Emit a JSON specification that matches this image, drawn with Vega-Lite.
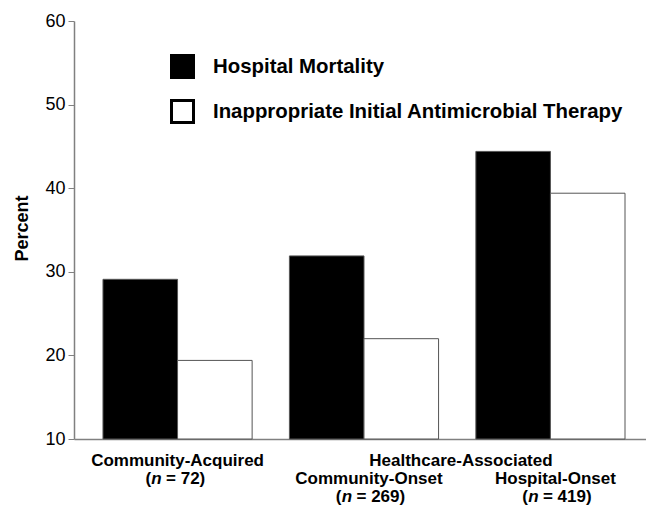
{
  "$schema": "https://vega.github.io/schema/vega-lite/v6.json",
  "width": 572,
  "height": 418,
  "autosize": "none",
  "padding": {"left": 74, "top": 21, "right": 0, "bottom": 71},
  "background": "white",
  "config": {
    "view": {"stroke": null},
    "font": "Liberation Sans",
    "text": {"font": "Liberation Sans", "fontWeight": "bold", "fontSize": 17, "color": "black"}
  },
  "datasets": {
    "bars": [
      {"group": "Community-Acquired", "measure": "Hospital Mortality", "value": 29.1},
      {"group": "Community-Acquired", "measure": "Inappropriate Initial Antimicrobial Therapy", "value": 19.4},
      {"group": "Community-Onset", "measure": "Hospital Mortality", "value": 31.9},
      {"group": "Community-Onset", "measure": "Inappropriate Initial Antimicrobial Therapy", "value": 22.0},
      {"group": "Hospital-Onset", "measure": "Hospital Mortality", "value": 44.4},
      {"group": "Hospital-Onset", "measure": "Inappropriate Initial Antimicrobial Therapy", "value": 39.4}
    ],
    "groups": [
      {"group": "Community-Acquired", "row": 1, "rest": "= 72)"},
      {"group": "Community-Onset", "row": 2, "rest": "= 269)"},
      {"group": "Hospital-Onset", "row": 2, "rest": "= 419)"}
    ],
    "super": [
      {"group": "Community-Onset", "text": "Healthcare-Associated"}
    ]
  },
  "encoding": {
    "x": {
      "field": "group",
      "type": "nominal",
      "sort": ["Community-Acquired", "Community-Onset", "Hospital-Onset"],
      "scale": {"paddingInner": 0.2, "paddingOuter": 0.134, "align": 0.58},
      "axis": {"labels": false, "ticks": false, "title": null, "domainColor": "#808080", "domainWidth": 1.5}
    }
  },
  "layer": [
    {
      "data": {"name": "bars"},
      "mark": {"type": "bar", "stroke": "#555555", "strokeWidth": 1},
      "encoding": {
        "xOffset": {
          "field": "measure",
          "type": "nominal",
          "sort": ["Hospital Mortality", "Inappropriate Initial Antimicrobial Therapy"],
          "scale": {"paddingInner": 0, "paddingOuter": 0}
        },
        "y": {
          "field": "value",
          "type": "quantitative",
          "scale": {"domain": [10, 60], "nice": false, "zero": false},
          "axis": {
            "values": [10, 20, 30, 40, 50, 60],
            "grid": false,
            "tickSize": 6,
            "tickColor": "#808080",
            "domainColor": "#808080",
            "domainWidth": 1.5,
            "labelFont": "Liberation Sans",
            "labelFontSize": 18,
            "labelColor": "black",
            "labelPadding": 3,
            "title": "Percent",
            "titleFont": "Liberation Sans",
            "titleFontWeight": "bold",
            "titleFontSize": 18,
            "titleColor": "black",
            "titleAngle": -90,
            "titleX": -52,
            "titleY": 207,
            "titleAlign": "center",
            "titleBaseline": "middle"
          }
        },
        "y2": {"datum": 10},
        "color": {
          "field": "measure",
          "type": "nominal",
          "scale": {
            "domain": ["Hospital Mortality", "Inappropriate Initial Antimicrobial Therapy"],
            "range": ["#000000", "#ffffff"]
          },
          "legend": {
            "title": null,
            "orient": "none",
            "legendX": 96,
            "legendY": 33,
            "padding": 0,
            "symbolType": "square",
            "symbolSize": 484,
            "symbolStrokeColor": "black",
            "symbolStrokeWidth": 3,
            "symbolOpacity": 1,
            "labelFont": "Liberation Sans",
            "labelFontWeight": "bold",
            "labelFontSize": 20.4,
            "labelColor": "black",
            "labelOffset": 18,
            "labelLimit": 600,
            "rowPadding": 10
          }
        }
      }
    },
    {
      "data": {"name": "groups"},
      "transform": [{"filter": "datum.row == 1"}],
      "mark": {"type": "text", "align": "center", "baseline": "middle", "dy": 22},
      "encoding": {"text": {"field": "group"}, "y": {"datum": 10}}
    },
    {
      "data": {"name": "groups"},
      "transform": [{"filter": "datum.row == 2"}],
      "mark": {"type": "text", "align": "center", "baseline": "middle", "dy": 40, "dx": 5},
      "encoding": {"text": {"field": "group"}, "y": {"datum": 10}}
    },
    {
      "data": {"name": "super"},
      "mark": {"type": "text", "align": "center", "baseline": "middle", "dy": 22},
      "encoding": {"text": {"field": "text"}, "x": {"field": "group", "type": "nominal", "bandPosition": 1.15}, "y": {"datum": 10}}
    },
    {
      "data": {"name": "groups"},
      "transform": [{"filter": "datum.row == 1"}],
      "mark": {"type": "text", "align": "right", "baseline": "middle", "dy": 40, "dx": -26.5},
      "encoding": {"text": {"value": "("}, "y": {"datum": 10}}
    },
    {
      "data": {"name": "groups"},
      "transform": [{"filter": "datum.row == 1"}],
      "mark": {"type": "text", "align": "center", "baseline": "middle", "dy": 40, "dx": -21, "fontStyle": "italic"},
      "encoding": {"text": {"value": "n"}, "y": {"datum": 10}}
    },
    {
      "data": {"name": "groups"},
      "transform": [{"filter": "datum.row == 1"}],
      "mark": {"type": "text", "align": "left", "baseline": "middle", "dy": 40, "dx": -11.5},
      "encoding": {"text": {"field": "rest"}, "y": {"datum": 10}}
    },
    {
      "data": {"name": "groups"},
      "transform": [{"filter": "datum.row == 2"}],
      "mark": {"type": "text", "align": "right", "baseline": "middle", "dy": 58, "dx": -22.5},
      "encoding": {"text": {"value": "("}, "y": {"datum": 10}}
    },
    {
      "data": {"name": "groups"},
      "transform": [{"filter": "datum.row == 2"}],
      "mark": {"type": "text", "align": "center", "baseline": "middle", "dy": 58, "dx": -17, "fontStyle": "italic"},
      "encoding": {"text": {"value": "n"}, "y": {"datum": 10}}
    },
    {
      "data": {"name": "groups"},
      "transform": [{"filter": "datum.row == 2"}],
      "mark": {"type": "text", "align": "left", "baseline": "middle", "dy": 58, "dx": -7.5},
      "encoding": {"text": {"field": "rest"}, "y": {"datum": 10}}
    }
  ]
}
